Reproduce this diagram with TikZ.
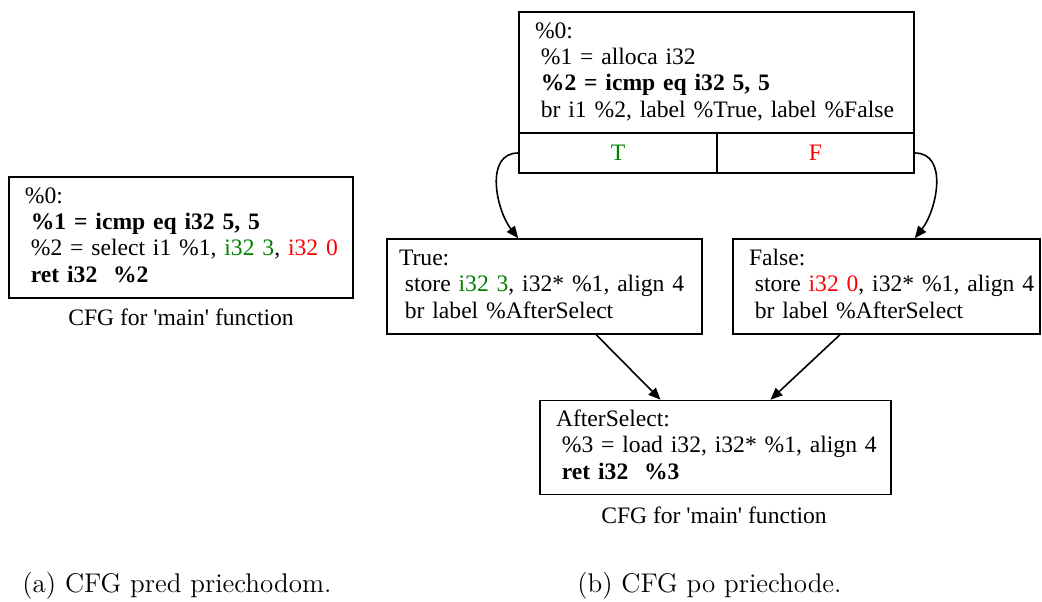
\documentclass[tikz,border=0pt]{standalone}
\usepackage{fontspec}
\newfontfamily\gvfont{Liberation Serif}[Ligatures=TeXOff]
\usetikzlibrary{arrows.meta}
\definecolor{gvgreen}{RGB}{0,128,0}
\newcommand\ind{\hspace*{0.25em}}
\newcommand\gvlines[1]{\begin{tabular}{@{}l@{}}#1\end{tabular}}
\tikzset{
  gvtext/.style={font=\gvfont\fontsize{11.8}{13.2}\selectfont},
  block/.style={gvtext, draw, line width=0.8pt, align=left, inner xsep=8pt, inner ysep=0pt},
  cell/.style={gvtext, draw, line width=0.8pt, inner sep=0pt, minimum height=20pt},
  edge/.style={line width=0.8pt, -{Triangle[length=6pt,width=5pt]}},
  subcap/.style={font=\fontsize{13.5}{16}\selectfont, anchor=west, inner sep=0pt}
}
\begin{document}
\begin{tikzpicture}[x=0.5pt,y=-0.5pt]
\useasboundingbox (0,0) rectangle (1042,601);

% (a) before the pass
\node[block, text width=156pt, minimum height=60.5pt] (pre) at (181,237.5)
  {\gvlines{\%0:\\
   \ind\textbf{\%1 = icmp eq i32 5, 5}\\
   \ind\%2 = select i1 \%1, \textcolor{gvgreen}{i32 3}, \textcolor{red}{i32 0}\\
   \ind\textbf{ret i32\ \ \%2}}};
\node[gvtext] (capl) at (181,317) {CFG for 'main' function};

% (b) after the pass
\node[block, text width=181.5pt, minimum height=60.5pt] (entry) at (716.5,72.5)
  {\gvlines{\%0:\\
   \ind\%1 = alloca i32\\
   \ind\textbf{\%2 = icmp eq i32 5, 5}\\
   \ind br i1 \%2, label \%True, label \%False}};
\node[cell, minimum width=99pt, text=gvgreen] (tcell) at (618,153) {T};
\node[cell, minimum width=98.5pt, text=red] (fcell) at (815.5,153) {F};

\node[block, inner xsep=6pt, text width=145.5pt, minimum height=47.5pt] (truebb) at (544.5,286.5)
  {\gvlines{True:\\
   \ind store \textcolor{gvgreen}{i32 3}, i32* \%1, align 4\\
   \ind br label \%AfterSelect}};
\node[block, text width=137.5pt, minimum height=47.5pt] (falsebb) at (886.5,286.5)
  {\gvlines{False:\\
   \ind store \textcolor{red}{i32 0}, i32* \%1, align 4\\
   \ind br label \%AfterSelect}};
\node[block, text width=159.5pt, minimum height=47pt] (afterbb) at (715.5,447.5)
  {\gvlines{AfterSelect:\\
   \ind\%3 = load i32, i32* \%1, align 4\\
   \ind\textbf{ret i32\ \ \%3}}};
\node[gvtext] (capr) at (714,515) {CFG for 'main' function};

% branches
\draw[edge] (tcell.west) .. controls +(-34,0) and +(-22,-28) .. (tcell.west |- truebb.north);
\draw[edge] (fcell.east) .. controls +(34,0) and +(22,-28) .. (fcell.east |- falsebb.north);
% merge
\draw[edge] (truebb.317) -- (afterbb.139);
\draw[edge] (falsebb.226) -- (afterbb.41);

% subcaptions
\node[subcap] (suba) at (22,586) {(a) CFG pred priechodom.};
\node[subcap] (subb) at (577,586) {(b) CFG po priechode.};

\end{tikzpicture}
\end{document}
